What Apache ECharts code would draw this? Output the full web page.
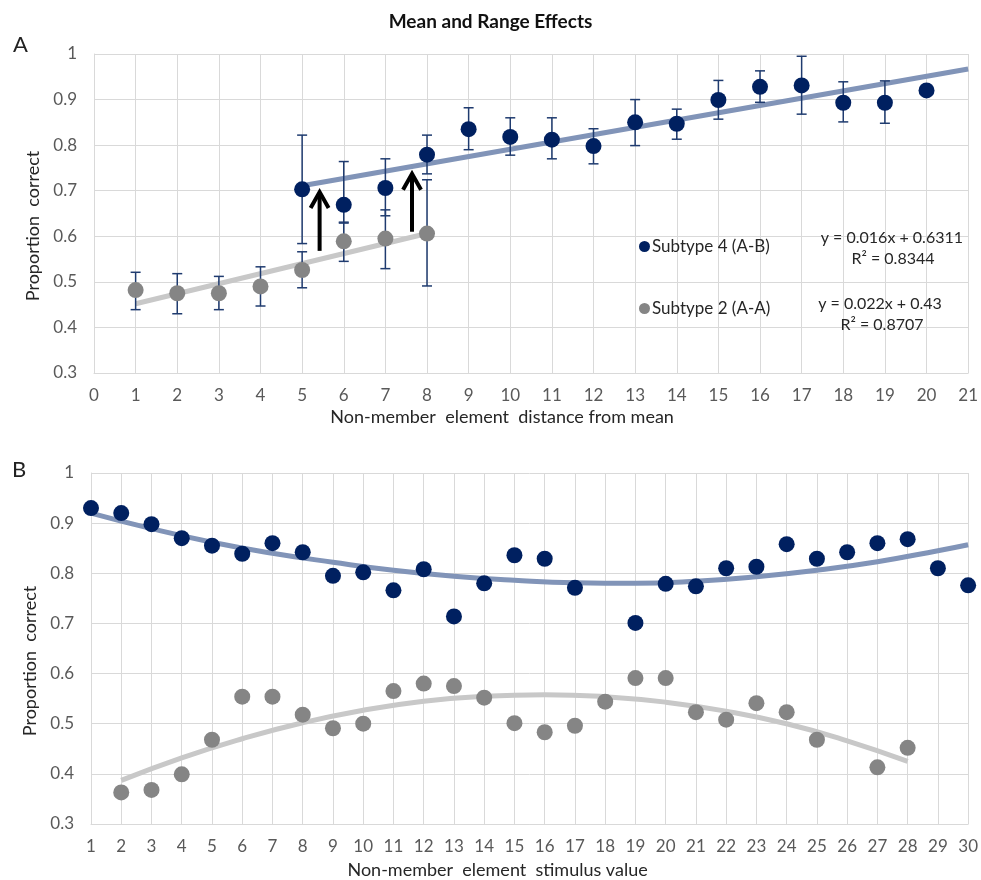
<!DOCTYPE html>
<html><head><meta charset="utf-8">
<script src="https://cdn.jsdelivr.net/npm/echarts@6/dist/echarts.min.js"></script>
<style>html,body{margin:0;padding:0;background:#fff}#c{width:981px;height:880px}</style>
</head><body><div id="c"></div>
<script>
// ---------- Panel A data ----------
const xA_blue = [5,6,7,8,9,10,11,12,13,14,15,16,17,18,19,20];
const yA_blue = [0.703,0.669,0.706,0.779,0.835,0.818,0.812,0.798,0.850,0.847,0.899,0.928,0.931,0.893,0.893,0.920];
const loA_blue = [0.584,0.629,0.645,0.737,0.790,0.778,0.770,0.759,0.799,0.813,0.857,0.894,0.868,0.851,0.848,null];
const hiA_blue = [0.822,0.764,0.770,0.822,0.882,0.860,0.860,0.836,0.900,0.879,0.942,0.963,0.995,0.939,0.941,null];
const xA_gray = [1,2,3,4,5,6,7,8];
const yA_gray = [0.482,0.475,0.475,0.490,0.526,0.589,0.595,0.606];
const loA_gray = [0.439,0.430,0.439,0.447,0.487,0.545,0.529,0.491];
const hiA_gray = [0.521,0.518,0.512,0.533,0.566,0.631,0.658,0.724];
const trendA_blue = [[5,0.711],[21,0.967]];
const trendA_gray = [[1,0.452],[8,0.606]];
const arrowsA = [[5.42,0.568,0.697],[7.64,0.610,0.737]];
const eqA_blue = ['y = 0.016x + 0.6311','R² = 0.8344'];
const eqA_gray = ['y = 0.022x + 0.43','R² = 0.8707'];

// ---------- Panel B data ----------
const xB_blue = [1,2,3,4,5,6,7,8,9,10,11,12,13,14,15,16,17,19,20,21,22,23,24,25,26,27,28,29,30];
const yB_blue = [0.930,0.920,0.898,0.870,0.855,0.839,0.860,0.842,0.795,0.802,0.766,0.808,0.714,0.780,0.836,0.829,0.771,0.701,0.779,0.774,0.810,0.813,0.858,0.829,0.842,0.860,0.868,0.810,0.776];
const xB_gray = [2,3,4,5,6,7,8,9,10,11,12,13,14,15,16,17,18,19,20,21,22,23,24,25,27,28];
const yB_gray = [0.363,0.368,0.399,0.468,0.554,0.554,0.518,0.491,0.500,0.565,0.580,0.575,0.552,0.501,0.483,0.496,0.544,0.591,0.591,0.523,0.508,0.541,0.523,0.468,0.413,0.452];
const trendB_blue = [[1,0.920],[3,0.889],[5,0.862],[7,0.840],[9,0.822],[11,0.806],[13,0.794],[15,0.786],[17,0.781],[19,0.780],[21,0.784],[23,0.793],[25,0.806],[27,0.823],[29,0.845],[30,0.857]];
const trendB_gray = [[2,0.387],[4,0.432],[6,0.470],[8,0.502],[10,0.527],[12,0.545],[14,0.555],[16,0.558],[18,0.554],[20,0.543],[22,0.525],[24,0.500],[26,0.466],[28,0.425]];

const FONT = 'Lato';
const BLUE = '#002060', GRAY = '#858585', ERR = '#1f3b6f';
const GRID = '#d9d9d9', LBL = '#595959', NAME = '#262626';

const zip = (xs, ys) => xs.map((x, i) => [x, ys[i]]);
const errData = (xs, lo, hi) => xs.map((x, i) => [x, lo[i], hi[i]]).filter(d => d[1] != null);

function errRender(params, api) {
  const x = api.value(0), lo = api.value(1), hi = api.value(2);
  const a = api.coord([x, hi]), b = api.coord([x, lo]);
  const w = 5, st = {stroke: ERR, lineWidth: 1.5};
  return {type: 'group', children: [
    {type: 'line', shape: {x1: a[0], y1: a[1], x2: b[0], y2: b[1]}, style: st},
    {type: 'line', shape: {x1: a[0]-w, y1: a[1], x2: a[0]+w, y2: a[1]}, style: st},
    {type: 'line', shape: {x1: b[0]-w, y1: b[1], x2: b[0]+w, y2: b[1]}, style: st}
  ]};
}
function arrowRender(params, api) {
  const x = api.value(0);
  const b = api.coord([x, api.value(1)]), t = api.coord([x, api.value(2)]);
  const st = {stroke: '#000', lineWidth: 4, fill: null};
  return {type: 'group', children: [
    {type: 'line', shape: {x1: b[0], y1: b[1], x2: t[0], y2: t[1]+2}, style: st},
    {type: 'polyline', shape: {points: [[t[0]-9, t[1]+16], [t[0], t[1]], [t[0]+9, t[1]+16]]}, style: st}
  ]};
}

function xAxis(gi, min, max, name, gap, shift) {
  return {gridIndex: gi, type: 'value', min, max, interval: 1,
    name, nameLocation: 'middle', nameGap: gap,
    nameTextStyle: {fontFamily: FONT, fontSize: 18, color: NAME, padding: [0, shift, 0, 0]},
    axisLine: {show: true, lineStyle: {color: GRID}}, axisTick: {show: false},
    axisLabel: {fontFamily: FONT, fontSize: 17, color: LBL, margin: 14},
    splitLine: {show: true, lineStyle: {color: GRID, width: 1}}};
}
function yAxis(gi, gap, margin) {
  return {gridIndex: gi, type: 'value', min: 0.3, max: 1, interval: 0.1,
    name: 'Proportion  correct', nameLocation: 'middle', nameGap: gap,
    nameTextStyle: {fontFamily: FONT, fontSize: 18, color: NAME, padding: [0, 25, 0, 0]},
    axisLine: {show: true, lineStyle: {color: GRID}}, axisTick: {show: false},
    axisLabel: {fontFamily: FONT, fontSize: 17, color: LBL, margin,
      formatter: v => String(+v.toFixed(1))},
    splitLine: {show: true, lineStyle: {color: GRID, width: 1}}};
}

const chart = echarts.init(document.getElementById('c'));
chart.setOption({
  animation: false,
  title: {text: 'Mean and Range Effects', left: 'center', top: 7,
    textStyle: {fontFamily: FONT, fontSize: 19, fontWeight: 'bold', color: '#111'}},
  grid: [
    {left: 94, right: 9, top: 54, height: 319},
    {left: 91, right: 9, top: 473, height: 351}
  ],
  xAxis: [xAxis(0, 0, 21, 'Non-member  element  distance from mean', 35, 58),
          xAxis(1, 1, 30, 'Non-member  element  stimulus value', 37, 64)],
  yAxis: [yAxis(0, 43, 17), yAxis(1, 50, 17)],
  legend: {orient: 'vertical', left: 634, top: 233, itemGap: 45, itemWidth: 11, itemHeight: 11,
    icon: 'circle', data: ['Subtype 4 (A-B)', 'Subtype 2 (A-A)'],
    textStyle: {fontFamily: FONT, fontSize: 17, color: NAME, padding: [0,0,0,-3]}},
  graphic: [
    {type: 'text', z: 100, x: 963, y: 238, style: {text: eqA_blue[0], align: 'right', verticalAlign: 'middle', font: '16px ' + FONT, fill: NAME}},
    {type: 'text', z: 100, x: 893, y: 259, style: {text: eqA_blue[1], align: 'center', verticalAlign: 'middle', font: '16px ' + FONT, fill: NAME}},
    {type: 'text', z: 100, x: 880, y: 304, style: {text: eqA_gray[0], align: 'center', verticalAlign: 'middle', font: '16px ' + FONT, fill: NAME}},
    {type: 'text', z: 100, x: 882, y: 325, style: {text: eqA_gray[1], align: 'center', verticalAlign: 'middle', font: '16px ' + FONT, fill: NAME}},
    {type: 'text', z: 100, x: 13, y: 45, style: {text: 'A', verticalAlign: 'middle', font: '22px ' + FONT, fill: '#222'}},
    {type: 'text', z: 100, x: 12, y: 470, style: {text: 'B', verticalAlign: 'middle', font: '22px ' + FONT, fill: '#222'}}
  ],
  series: [
    {type: 'line', xAxisIndex: 0, yAxisIndex: 0, data: trendA_gray, symbol: 'none', silent: true,
      lineStyle: {color: '#c8c8c8', width: 5}, z: 2},
    {type: 'line', xAxisIndex: 0, yAxisIndex: 0, data: trendA_blue, symbol: 'none', silent: true,
      lineStyle: {color: '#8194b8', width: 5}, z: 2},
    {type: 'custom', xAxisIndex: 0, yAxisIndex: 0, data: errData(xA_gray, loA_gray, hiA_gray), renderItem: errRender, z: 3},
    {type: 'custom', xAxisIndex: 0, yAxisIndex: 0, data: errData(xA_blue, loA_blue, hiA_blue), renderItem: errRender, z: 3},
    {name: 'Subtype 2 (A-A)', type: 'scatter', xAxisIndex: 0, yAxisIndex: 0, data: zip(xA_gray, yA_gray),
      symbolSize: 16, itemStyle: {color: GRAY, opacity: 1}, z: 4},
    {name: 'Subtype 4 (A-B)', type: 'scatter', xAxisIndex: 0, yAxisIndex: 0, data: zip(xA_blue, yA_blue),
      symbolSize: 16, itemStyle: {color: BLUE, opacity: 1}, z: 4},
    {type: 'custom', xAxisIndex: 0, yAxisIndex: 0, data: arrowsA, renderItem: arrowRender, z: 5},

    {type: 'line', xAxisIndex: 1, yAxisIndex: 1, data: trendB_gray, symbol: 'none', smooth: true, silent: true,
      lineStyle: {color: '#c8c8c8', width: 5}, z: 2},
    {type: 'line', xAxisIndex: 1, yAxisIndex: 1, data: trendB_blue, symbol: 'none', smooth: true, silent: true,
      lineStyle: {color: '#8194b8', width: 5}, z: 2},
    {type: 'scatter', xAxisIndex: 1, yAxisIndex: 1, data: zip(xB_gray, yB_gray),
      symbolSize: 16, itemStyle: {color: GRAY, opacity: 1}, z: 4},
    {type: 'scatter', xAxisIndex: 1, yAxisIndex: 1, data: zip(xB_blue, yB_blue),
      symbolSize: 16, itemStyle: {color: BLUE, opacity: 1}, z: 4}
  ]
});
</script></body></html>
